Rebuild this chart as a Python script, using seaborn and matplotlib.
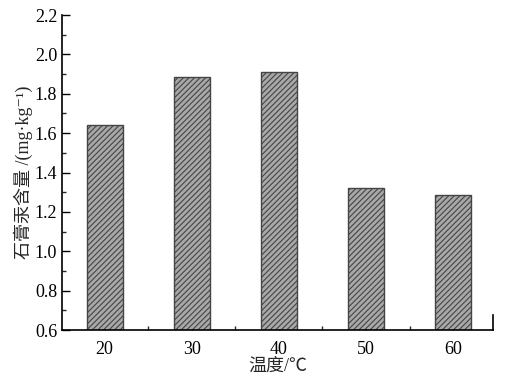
import numpy as np
import pandas as pd
import seaborn as sns
import matplotlib.pyplot as plt
from matplotlib.ticker import MultipleLocator

# Data
temperatures = [20, 30, 40, 50, 60]
mercury = [1.643, 1.885, 1.912, 1.322, 1.286]

df = pd.DataFrame({"temp": temperatures, "hg": mercury})

sns.set_style("ticks")
plt.rcParams["font.family"] = ["Liberation Serif", "Noto Sans CJK SC", "DejaVu Sans"]
plt.rcParams["hatch.color"] = "#333333"
plt.rcParams["hatch.linewidth"] = 0.8

fig = plt.figure(figsize=(5.28, 3.84), dpi=100)
ax = fig.add_axes([0.1174, 0.1406, 0.8166, 0.8203])

sns.barplot(data=df, x="temp", y="hg", native_scale=True, width=0.41,
            color="#a8a8a8", edgecolor="#444444", linewidth=1.0,
            hatch="//////", saturation=1, ax=ax)

ax.set_xlim(15.1, 64.6)
ax.set_ylim(0.6, 2.2)
ax.xaxis.set_major_locator(MultipleLocator(10))
ax.xaxis.set_minor_locator(MultipleLocator(5))
ax.yaxis.set_major_locator(MultipleLocator(0.2))
ax.yaxis.set_minor_locator(MultipleLocator(0.1))
ax.yaxis.set_major_formatter(plt.FormatStrFormatter("%.1f"))

ax.tick_params(which="major", direction="in", length=6, width=1, labelsize=13, colors="black")
ax.tick_params(axis="x", which="major", pad=8)
ax.tick_params(which="minor", direction="in", length=3, width=1)

sns.despine(ax=ax)
ax.spines["right"].set_visible(True)
ax.spines["right"].set_bounds(0.6, 0.675)
for s in ["left", "bottom", "right"]:
    ax.spines[s].set_linewidth(1.2)
    ax.spines[s].set_color("black")

ax.set_xlabel("温度/℃", fontsize=13, labelpad=0)
ax.set_ylabel("石膏汞含量 /(mg·kg⁻¹)", fontsize=13, labelpad=1)

fig.savefig("out.png", dpi=100)
